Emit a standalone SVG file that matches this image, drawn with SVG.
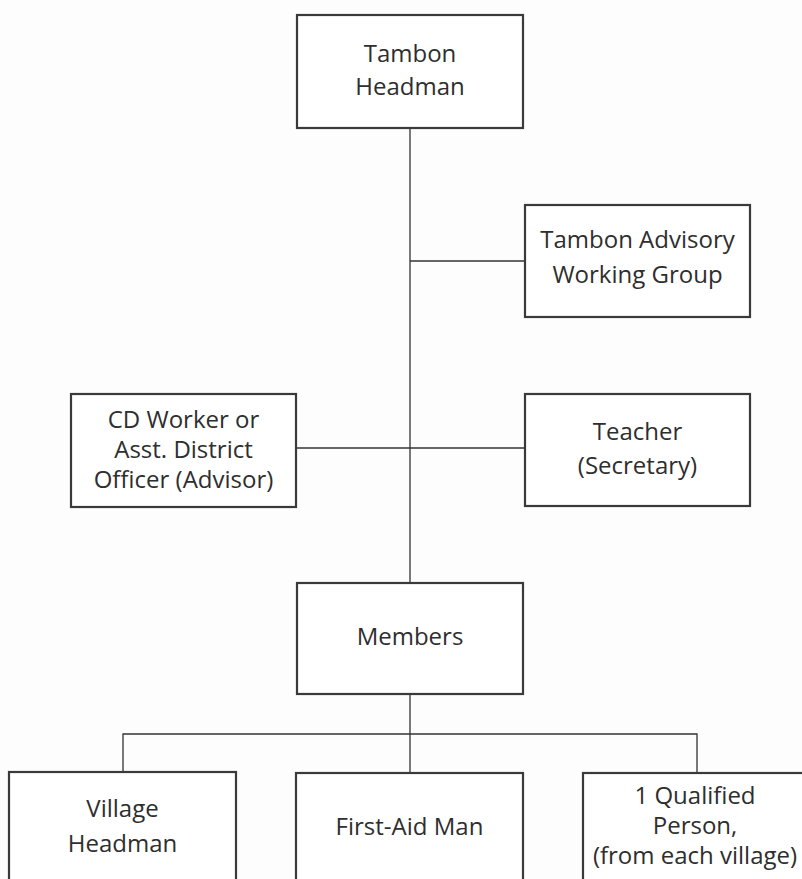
<svg xmlns="http://www.w3.org/2000/svg" width="802" height="879" viewBox="0 0 802 879">
  <style>
    .box { fill: #ffffff; stroke: #3a3a3a; stroke-width: 2.2; }
    .link { fill: none; stroke: #333333; stroke-width: 1.3; }
    .lbl { font-family: "Open Sans", "DejaVu Sans", sans-serif; font-size: 24px; fill: #2e2e2e; text-anchor: middle; }
  </style>
  <rect x="0" y="0" width="802" height="879" fill="#fdfdfd"/>

  <!-- connectors -->
  <g id="connectors">
    <line class="link" x1="410" y1="128" x2="410" y2="583"/>
    <line class="link" x1="410" y1="261" x2="525" y2="261"/>
    <line class="link" x1="296" y1="448" x2="525" y2="448"/>
    <line class="link" x1="410" y1="694" x2="410" y2="773"/>
    <polyline class="link" points="123,772 123,734 697,734 697,773"/>
  </g>

  <g id="tambon-headman">
    <rect class="box" x="297" y="15" width="226" height="113"/>
    <text class="lbl" x="410" y="62">Tambon</text>
    <text class="lbl" x="410" y="95">Headman</text>
  </g>

  <g id="advisory-group">
    <rect class="box" x="525" y="205" width="225" height="112"/>
    <text class="lbl" x="637.5" y="248">Tambon Advisory</text>
    <text class="lbl" x="637.5" y="283">Working Group</text>
  </g>

  <g id="cd-worker">
    <rect class="box" x="71" y="394" width="225" height="113"/>
    <text class="lbl" x="183.5" y="428">CD Worker or</text>
    <text class="lbl" x="183.5" y="458">Asst. District</text>
    <text class="lbl" x="183.5" y="488">Officer (Advisor)</text>
  </g>

  <g id="teacher">
    <rect class="box" x="525" y="394" width="225" height="112"/>
    <text class="lbl" x="637.5" y="440">Teacher</text>
    <text class="lbl" x="637.5" y="474">(Secretary)</text>
  </g>

  <g id="members">
    <rect class="box" x="297" y="583" width="226" height="111"/>
    <text class="lbl" x="410" y="645">Members</text>
  </g>

  <g id="village-headman">
    <rect class="box" x="9" y="772" width="227" height="120"/>
    <text class="lbl" x="122.5" y="817">Village</text>
    <text class="lbl" x="122.5" y="852">Headman</text>
  </g>

  <g id="first-aid-man">
    <rect class="box" x="296" y="773" width="227" height="120"/>
    <text class="lbl" x="409.5" y="835">First-Aid Man</text>
  </g>

  <g id="qualified-person">
    <rect class="box" x="583" y="773" width="224" height="120"/>
    <text class="lbl" x="695" y="804">1 Qualified</text>
    <text class="lbl" x="695" y="834">Person,</text>
    <text class="lbl" x="695" y="864">(from each village)</text>
  </g>
</svg>
